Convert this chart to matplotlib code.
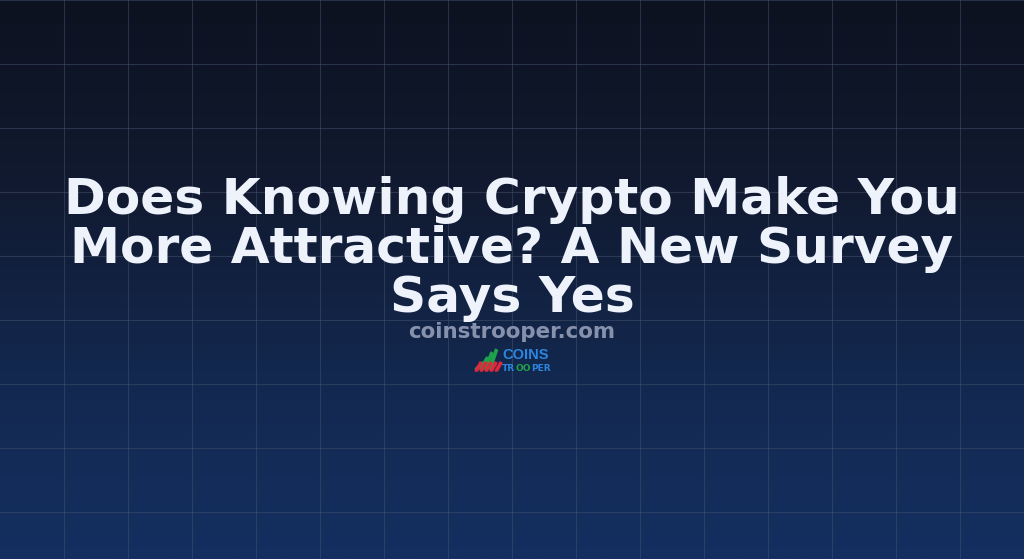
import numpy as np
import matplotlib
matplotlib.use("Agg")
import matplotlib.pyplot as plt
from matplotlib.colors import LinearSegmentedColormap
from matplotlib.patches import Polygon

title_lines = ["Does Knowing Crypto Make You", "More Attractive? A New Survey", "Says Yes"]
site = "coinstrooper.com"
logo_top = "COINS"
logo_bottom = ["TR", "OO", "PER"]

W, H = 1024, 559
fig = plt.figure(figsize=(W / 100, H / 100), dpi=100)
ax = fig.add_axes([0, 0, 1, 1])
ax.set_xlim(0, W)
ax.set_ylim(H, 0)
ax.axis("off")

cmap = LinearSegmentedColormap.from_list("bg", ["#0d1220", "#111a30", "#13284f", "#142f60"])
grad = np.linspace(0, 1, 256).reshape(-1, 1)
ax.imshow(grad, cmap=cmap, extent=[0, W, H, 0], aspect="auto", zorder=0)

for x in range(64, W, 64):
    ax.plot([x, x], [0, H], color="#44536f", lw=0.8, alpha=0.5, zorder=1)
for y in range(0, H, 64):
    ax.plot([0, W], [y, y], color="#44536f", lw=0.8, alpha=0.5, zorder=1)

baselines = [214, 263, 312]
for line, yb in zip(title_lines, baselines):
    ax.text(512, yb, line, ha="center", va="baseline", fontsize=36.2,
            fontweight="bold", color="#eef2fb", family="DejaVu Sans", zorder=3)

ax.text(512, 338, site, ha="center", va="baseline", fontsize=15.4,
        fontweight="bold", color="#8791ab", family="DejaVu Sans", zorder=3)

# logo mark: green rising strokes and red strokes
green_tops = [362, 357, 352, 349]
for i, top in enumerate(green_tops):
    x0 = 475 + 4.5 * i
    ax.add_patch(Polygon([[x0, 369], [x0 + 7, top], [x0 + 9, top + 1.5], [x0 + 2.5, 369]],
                         closed=True, color="#1fa34a", zorder=3))
for i in range(5):
    x0 = 475 + 5 * i
    ax.add_patch(Polygon([[x0, 371], [x0 + 5, 362], [x0 + 7, 363], [x0 + 2.5, 371]],
                         closed=True, color="#e0283c", zorder=4))
ax.text(502, 359, logo_top, ha="left", va="baseline", fontsize=10.5, fontweight="bold",
        color="#2a86e0", family="Liberation Sans", zorder=3)
bx = [502, 515.4, 531]
bc = ["#2a86e0", "#1fa34a", "#2a86e0"]
for txt, x, c in zip(logo_bottom, bx, bc):
    ax.text(x, 371, txt, ha="left", va="baseline", fontsize=6.5, fontweight="bold",
            color=c, family="DejaVu Sans", zorder=3)

fig.savefig("out.png", dpi=100)
